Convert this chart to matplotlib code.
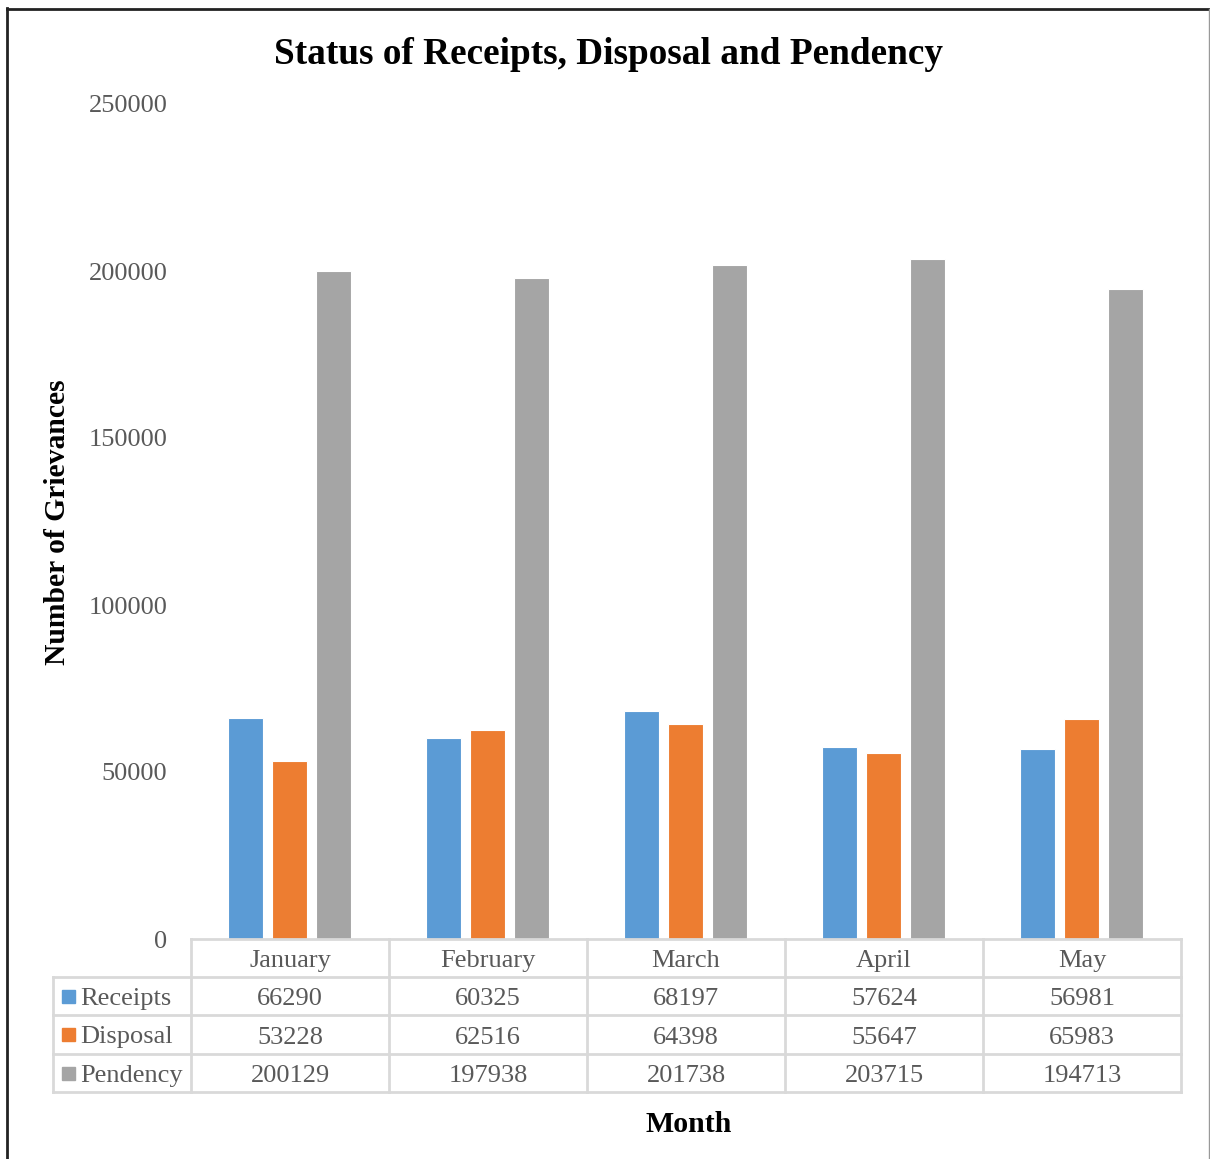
import matplotlib
matplotlib.use("Agg")
import matplotlib.pyplot as plt
import numpy as np
from matplotlib.lines import Line2D
from matplotlib.patches import Rectangle

months = ["January", "February", "March", "April", "May"]
series_names = ["Receipts", "Disposal", "Pendency"]
receipts = [66290, 60325, 68197, 57624, 56981]
disposal = [53228, 62516, 64398, 55647, 65983]
pendency = [200129, 197938, 201738, 203715, 194713]
colors = ["#5B9BD5", "#ED7D31", "#A5A5A5"]
yticks = [0, 50000, 100000, 150000, 200000, 250000]

plt.rcParams['font.family'] = ['Liberation Serif', 'DejaVu Serif']

W, H = 1210, 1159
fig = plt.figure(figsize=(W / 100, H / 100), dpi=100)

def fx(px):
    return px / W

def fy(py):
    return 1 - py / H

# plot area
x0, x1 = 191, 1181
y_top, y_bot = 104, 939
ax = fig.add_axes([fx(x0), fy(y_bot), fx(x1) - fx(x0), fy(y_top) - fy(y_bot)])
ax.set_xlim(-0.5, len(months) - 0.5)
ax.set_ylim(0, 250000)

data = [receipts, disposal, pendency]
width = 0.177
offsets = [-0.225, -0.003, 0.219]
x = np.arange(len(months))
for vals, off, c in zip(data, offsets, colors):
    ax.bar(x + off, vals, width=width, color=c, edgecolor='white', linewidth=0.8, zorder=2)

for s in ax.spines.values():
    s.set_visible(False)
ax.set_xticks([])
ax.set_yticks(yticks)
ax.set_yticklabels([str(v) for v in yticks], fontsize=19, color='#595959')
ax.tick_params(axis='y', length=0, pad=17)

# Title and axis labels
fig.text(fx(608), fy(54), "Status of Receipts, Disposal and Pendency", ha='center', va='center',
         fontsize=26.8, fontweight='bold', color='black')
fig.text(fx(58), fy(522), "Number of Grievances", ha='center', va='center', rotation=90,
         fontsize=21.3, fontweight='bold', color='black')
fig.text(fx(689), fy(1125), "Month", ha='center', va='center', fontsize=21.5, fontweight='bold', color='black')

# Data table
grid_c = '#D9D9D9'
lw = 2
tl = 53
row_edges = [939, 977, 1015, 1054, 1092]
col_w = (x1 - x0) / len(months)
col_edges = [x0 + i * col_w for i in range(len(months) + 1)]

def hline(px_a, px_b, py):
    fig.add_artist(Line2D([fx(px_a), fx(px_b)], [fy(py), fy(py)], color=grid_c, lw=lw))

def vline(px, py_a, py_b):
    fig.add_artist(Line2D([fx(px), fx(px)], [fy(py_a), fy(py_b)], color=grid_c, lw=lw))

hline(x0, x1, row_edges[0])
for ry in row_edges[1:]:
    hline(tl, x1, ry)
for cx in col_edges:
    vline(cx, row_edges[0], row_edges[-1])
vline(tl, row_edges[1], row_edges[-1])

txt_c = '#595959'
dy = 3
for i, m in enumerate(months):
    cx = (col_edges[i] + col_edges[i + 1]) / 2
    fig.text(fx(cx), fy((row_edges[0] + row_edges[1]) / 2 + dy), m, ha='center', va='center',
             fontsize=19, color=txt_c)
    for r, vals in enumerate(data):
        cy = (row_edges[r + 1] + row_edges[r + 2]) / 2
        fig.text(fx(cx), fy(cy + dy), str(vals[i]), ha='center', va='center', fontsize=19, color=txt_c)

for r, (name, c) in enumerate(zip(series_names, colors)):
    cy = (row_edges[r + 1] + row_edges[r + 2]) / 2
    sq = 13
    fig.add_artist(Rectangle((fx(62), fy(cy + sq / 2)), fx(sq), sq / H, color=c,
                             transform=fig.transFigure))
    fig.text(fx(80), fy(cy + dy), name, ha='left', va='center', fontsize=19, color=txt_c)

# Outer border (cropped chart frame)
fig.add_artist(Line2D([fx(7), fx(7)], [0, fy(8)], color='#222222', lw=2))
fig.add_artist(Line2D([fx(7), fx(1209)], [fy(8.5), fy(8.5)], color='#222222', lw=2))
fig.add_artist(Line2D([fx(1209), fx(1209)], [0, fy(9)], color='#999999', lw=1))

fig.savefig("out.png", dpi=100)
